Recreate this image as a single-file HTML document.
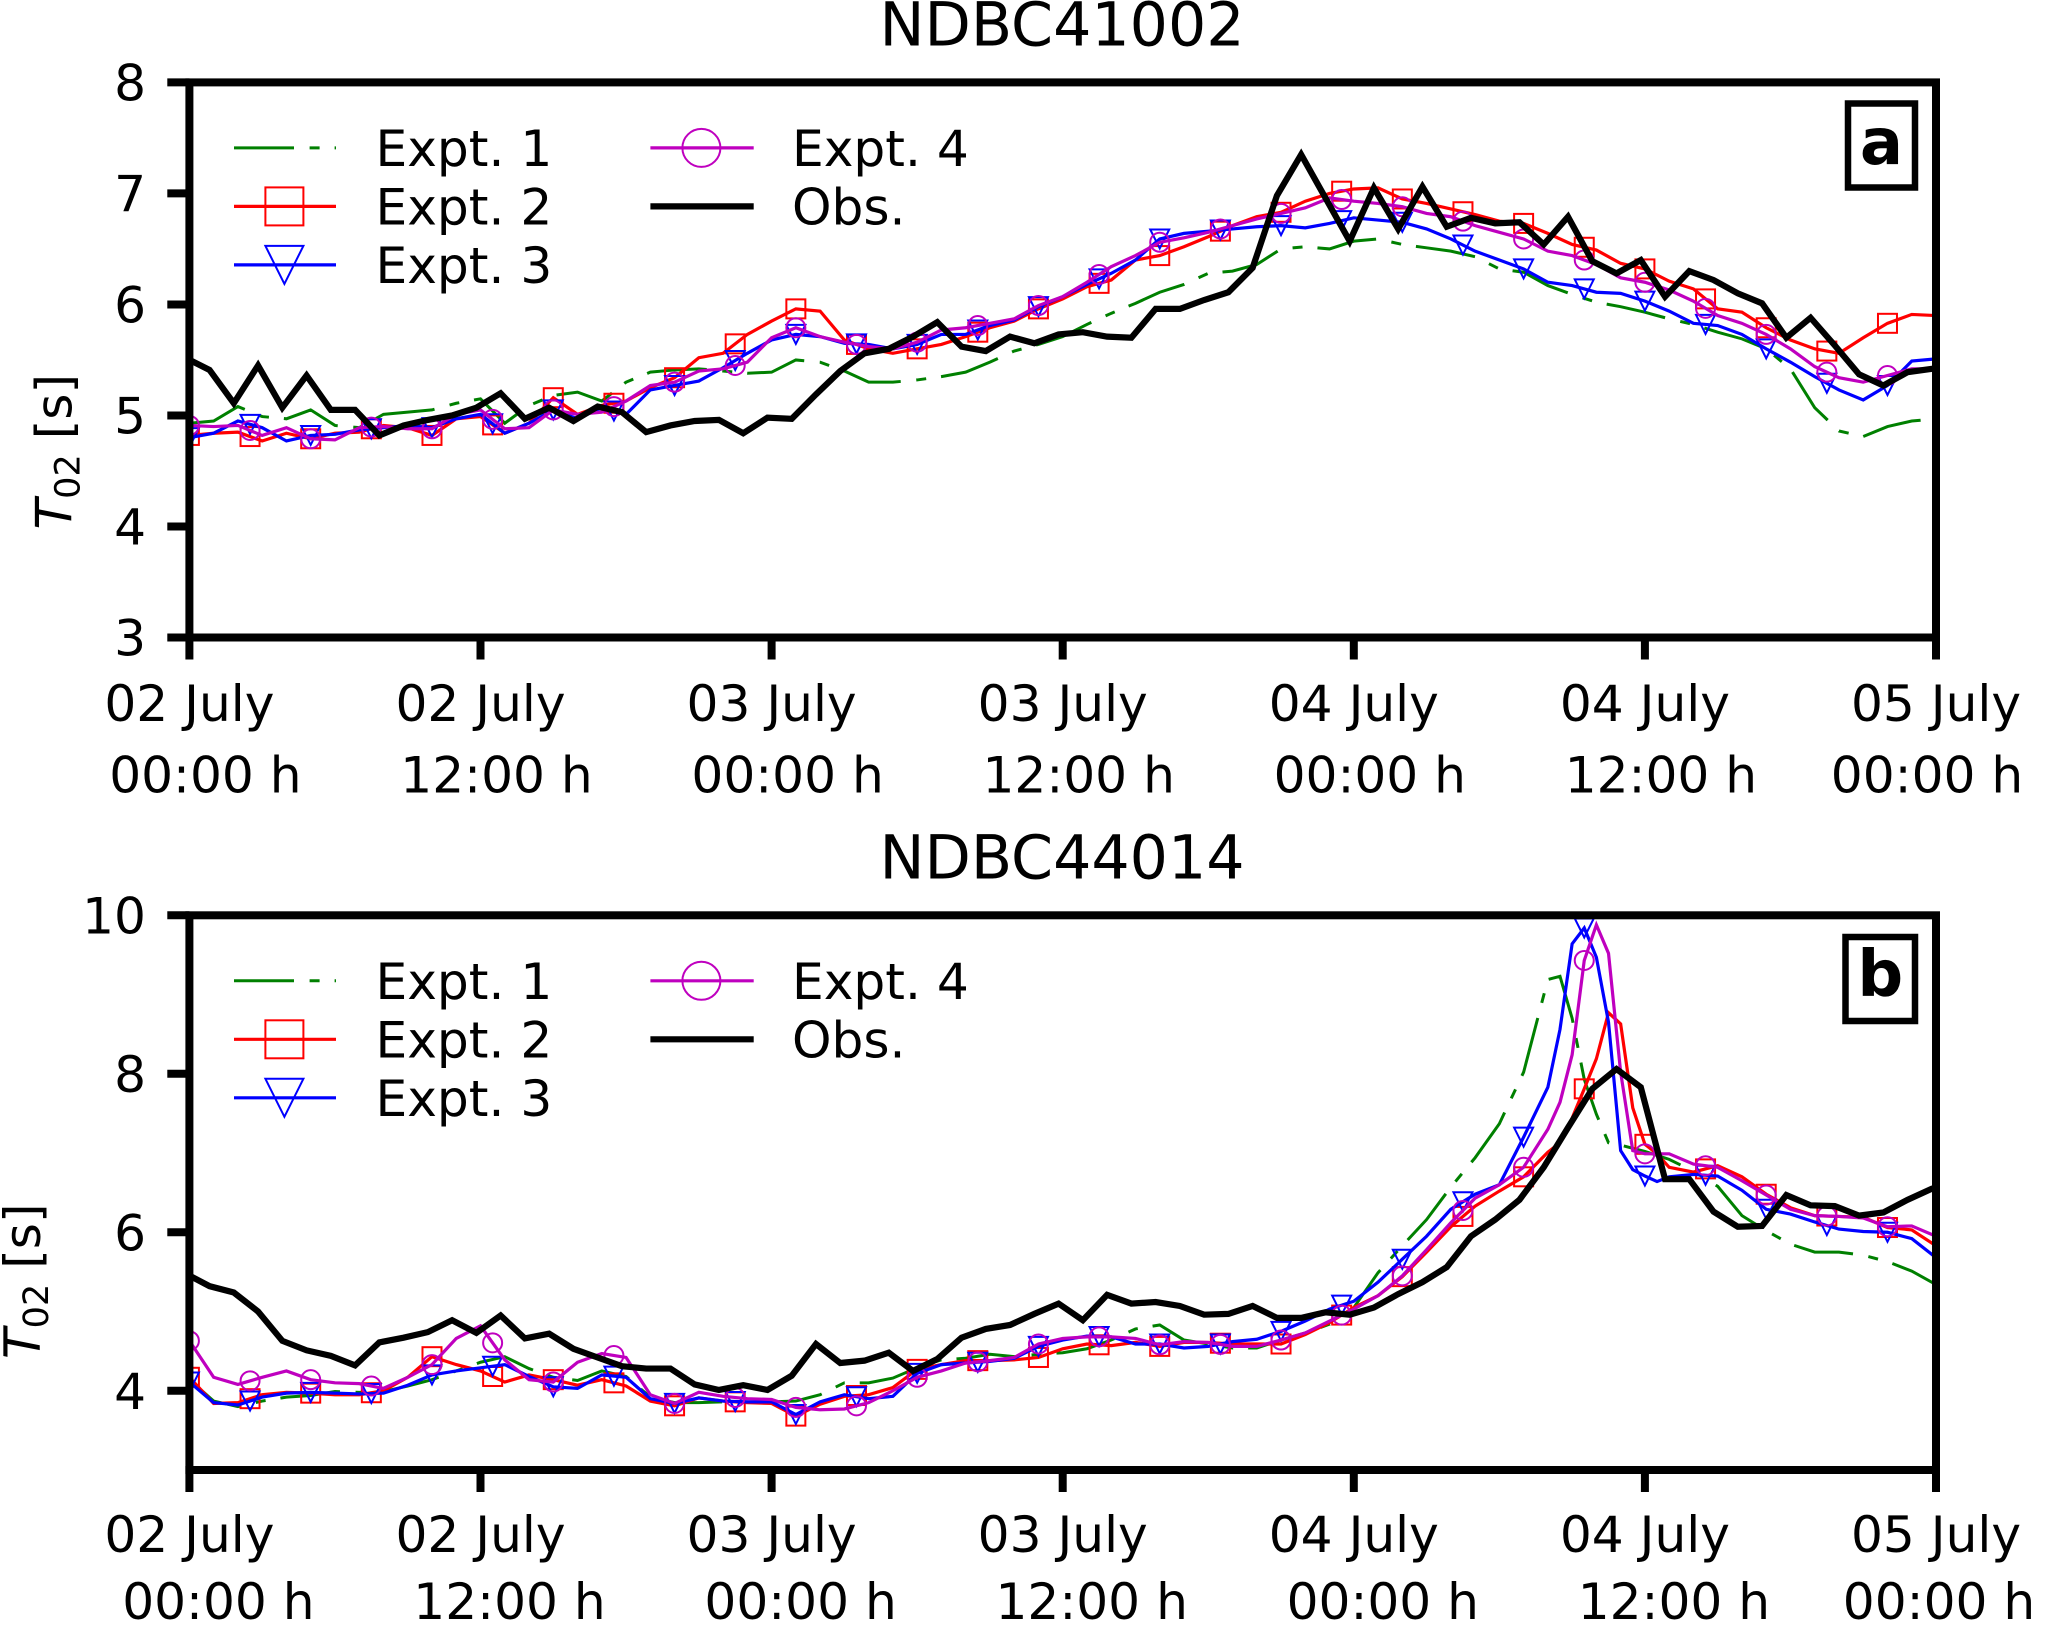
<!DOCTYPE html>
<html lang="en">
<head>
<meta charset="utf-8">
<title>NDBC T02 comparison</title>
<style>
html,body{margin:0;padding:0;background:#fff;}
svg{display:block;}
text{font-family:"DejaVu Sans","Liberation Sans",sans-serif;fill:#000;}
</style>
</head>
<body>
<svg id="chart" xmlns="http://www.w3.org/2000/svg" width="2066" height="1652" viewBox="0 0 2066 1652">
<rect x="0" y="0" width="2066" height="1652" fill="#fff"/>
<defs>
<clipPath id="clip-a"><rect x="189.4" y="82.4" width="1746.6" height="555.1"/></clipPath>
<clipPath id="clip-b"><rect x="189.4" y="915.3" width="1746.6" height="554.7"/></clipPath>
</defs>
</svg>
<script>
// Shared tick labels
const xTickHours = [0, 12, 24, 36, 48, 60, 72];
const xTickDates = ["02 July", "02 July", "03 July", "03 July", "04 July", "04 July", "05 July"];
const xTickTimes = ["00:00 h", "12:00 h", "00:00 h", "12:00 h", "00:00 h", "12:00 h", "00:00 h"];
const legendLabels = ["Expt. 1", "Expt. 2", "Expt. 3", "Expt. 4", "Obs."];

// Panel a (NDBC41002) — hourly
const aYTicks = [3, 4, 5, 6, 7, 8];
const aHours = [0,1,2,3,4,5,6,7,8,9,10,11,12,13,14,15,16,17,18,19,20,21,22,23,24,25,26,27,28,29,30,31,32,33,34,35,36,37,38,39,40,41,42,43,44,45,46,47,48,49,50,51,52,53,54,55,56,57,58,59,60,61,62,63,64,65,66,67,68,69,70,71,72];
const aExpt1 = [4.93,4.95,5.08,4.99,4.97,5.05,4.91,4.89,5.01,5.03,5.05,5.11,5.15,4.93,5.09,5.18,5.21,5.13,5.30,5.39,5.41,5.42,5.40,5.38,5.39,5.5,5.48,5.40,5.30,5.30,5.32,5.35,5.39,5.48,5.58,5.64,5.71,5.82,5.92,6.01,6.11,6.18,6.28,6.30,6.36,6.50,6.52,6.50,6.57,6.59,6.54,6.51,6.48,6.43,6.32,6.29,6.17,6.09,6.02,5.98,5.93,5.87,5.82,5.75,5.69,5.6,5.42,5.07,4.86,4.81,4.90,4.95,4.97];
const aExpt2 = [4.82,4.84,4.85,4.77,4.84,4.79,4.84,4.85,4.91,4.89,4.82,4.97,4.99,4.84,4.93,5.16,5.01,5.09,5.13,5.25,5.34,5.52,5.56,5.73,5.85,5.96,5.94,5.68,5.6,5.56,5.6,5.64,5.71,5.79,5.85,5.96,6.05,6.16,6.22,6.40,6.44,6.52,6.61,6.71,6.79,6.83,6.93,7.0,7.04,7.05,6.95,6.91,6.86,6.81,6.75,6.73,6.64,6.54,6.49,6.37,6.32,6.21,6.14,5.96,5.93,5.79,5.68,5.6,5.56,5.70,5.83,5.91,5.90];
const aExpt3 = [4.8,4.84,4.95,4.89,4.77,4.82,4.83,4.87,4.89,4.91,4.89,4.97,5.01,4.84,4.93,5.05,4.97,5.07,5.01,5.23,5.27,5.31,5.43,5.56,5.68,5.73,5.71,5.65,5.64,5.60,5.64,5.73,5.73,5.81,5.86,5.98,6.07,6.18,6.28,6.40,6.59,6.64,6.66,6.68,6.70,6.71,6.69,6.73,6.78,6.76,6.74,6.68,6.59,6.48,6.40,6.32,6.2,6.17,6.11,6.10,6.03,5.94,5.83,5.81,5.73,5.60,5.48,5.35,5.23,5.14,5.27,5.49,5.51];
const aExpt4 = [4.91,4.90,4.91,4.82,4.89,4.79,4.78,4.89,4.90,4.88,4.88,5.01,5.05,4.88,4.89,5.05,5.01,5.03,5.13,5.27,5.30,5.40,5.42,5.48,5.70,5.79,5.71,5.66,5.62,5.6,5.66,5.77,5.79,5.83,5.87,5.99,6.07,6.20,6.34,6.44,6.56,6.60,6.65,6.71,6.77,6.82,6.87,6.96,6.93,6.91,6.88,6.82,6.79,6.71,6.65,6.59,6.48,6.44,6.36,6.24,6.2,6.13,6.03,5.9,5.83,5.73,5.6,5.44,5.34,5.30,5.36,5.42,5.42];
const aObs = [5.52,5.41,5.11,5.45,5.07,5.36,5.05,5.05,4.82,4.91,4.96,5.0,5.07,5.2,4.97,5.07,4.95,5.08,5.03,4.85,4.91,4.95,4.96,4.84,4.98,4.97,5.19,5.40,5.56,5.6,5.71,5.84,5.62,5.58,5.71,5.65,5.73,5.75,5.71,5.70,5.96,5.96,6.04,6.11,6.33,6.98,7.35,6.96,6.57,7.05,6.68,7.06,6.70,6.78,6.73,6.74,6.54,6.79,6.39,6.28,6.40,6.07,6.30,6.22,6.10,6.01,5.70,5.88,5.63,5.37,5.27,5.39,5.42,5.43];

// Panel b (NDBC44014) — hourly, half-hourly around the peak
const bYTicks = [4, 6, 8, 10];
const bHours = [0,1,2,3,4,5,6,7,8,9,10,11,12,13,14,15,16,17,18,19,20,21,22,23,24,25,26,27,28,29,30,31,32,33,34,35,36,37,38,39,40,41,42,43,44,45,46,47,48,49,50,51,52,53,54,55,56,56.5,57,57.5,58,58.5,59,59.5,60,60.5,61,62,63,64,65,66,67,68,69,70,71,72];
const bExpt1 = [4.14,3.87,3.80,3.87,3.92,3.94,3.99,3.98,3.99,4.06,4.14,4.25,4.36,4.43,4.28,4.17,4.13,4.25,4.18,3.92,3.85,3.85,3.86,3.86,3.86,3.87,3.95,4.10,4.10,4.16,4.29,4.39,4.41,4.46,4.43,4.46,4.48,4.53,4.64,4.78,4.83,4.64,4.59,4.54,4.54,4.64,4.73,4.84,5.05,5.49,5.83,6.16,6.57,6.94,7.37,8.02,9.19,9.23,8.70,7.93,7.49,7.13,7.10,7.06,7.02,6.97,6.92,6.77,6.58,6.21,6.02,5.85,5.75,5.75,5.71,5.63,5.51,5.34];
const bExpt2 = [4.17,3.84,3.85,3.95,3.98,3.97,3.95,3.95,4.0,4.17,4.43,4.33,4.25,4.11,4.2,4.14,4.07,4.14,4.06,3.87,3.81,3.91,3.87,3.85,3.84,3.68,3.83,3.93,3.95,4.04,4.27,4.33,4.38,4.38,4.39,4.42,4.53,4.59,4.57,4.61,4.56,4.61,4.61,4.59,4.59,4.59,4.71,4.86,5.05,5.20,5.44,5.75,6.07,6.33,6.52,6.70,7.01,7.13,7.44,7.81,8.19,8.77,8.63,7.57,7.11,6.99,6.82,6.76,6.84,6.70,6.48,6.31,6.21,6.20,6.19,6.06,6.03,5.83];
const bExpt3 = [4.11,3.85,3.82,3.92,3.97,3.98,3.97,3.96,3.97,4.07,4.2,4.25,4.29,4.33,4.18,4.05,4.03,4.2,4.17,3.9,3.84,3.91,3.87,3.86,3.86,3.70,3.86,3.95,3.90,3.93,4.22,4.33,4.35,4.37,4.41,4.56,4.64,4.69,4.68,4.59,4.59,4.54,4.56,4.62,4.65,4.75,4.88,5.03,5.13,5.37,5.66,5.95,6.29,6.48,6.60,7.20,7.83,8.56,9.64,9.84,9.47,8.65,7.03,6.79,6.71,6.64,6.70,6.73,6.71,6.53,6.29,6.23,6.13,6.04,6.01,6.0,5.92,5.68];
const bExpt4 = [4.63,4.17,4.08,4.17,4.25,4.14,4.10,4.09,4.03,4.17,4.33,4.66,4.82,4.39,4.14,4.11,4.36,4.47,4.42,3.95,3.84,3.98,3.93,3.90,3.89,3.79,3.76,3.77,3.85,4.0,4.17,4.25,4.35,4.38,4.42,4.59,4.66,4.68,4.68,4.66,4.58,4.62,4.61,4.56,4.56,4.64,4.73,4.88,5.03,5.20,5.45,5.78,6.12,6.43,6.60,6.82,7.30,7.64,8.24,9.43,9.88,9.52,8.02,7.03,6.99,6.99,6.99,6.86,6.82,6.65,6.47,6.29,6.21,6.20,6.18,6.07,6.08,5.95];
const bObs = [5.48,5.32,5.24,5.0,4.63,4.51,4.44,4.32,4.61,4.67,4.74,4.89,4.73,4.95,4.66,4.72,4.53,4.42,4.31,4.28,4.28,4.08,4.01,4.07,4.01,4.19,4.59,4.35,4.38,4.48,4.25,4.40,4.67,4.78,4.83,4.97,5.10,4.89,5.21,5.10,5.12,5.07,4.96,4.97,5.07,4.92,4.92,4.99,4.96,5.05,5.22,5.37,5.56,5.95,6.16,6.41,6.82,7.32,7.81,8.06,7.83,6.67,6.67,6.26,6.07,6.08,6.47,6.34,6.33,6.21,6.25,6.41,6.55,6.62];

const NS = "http://www.w3.org/2000/svg";
const svg = document.getElementById("chart");
const X0 = 189.4, X1 = 1936, XMAX = 72, OBS_SHIFT = -0.17, MARK_STEP = 2.5;

function xScale(h) { return X0 + (X1 - X0) * h / XMAX; }

function node(tag, attrs, parent) {
  const el = document.createElementNS(NS, tag);
  for (const k in attrs) el.setAttribute(k, attrs[k]);
  (parent || svg).appendChild(el);
  return el;
}

function interp(hours, vals, t) {
  for (let i = 0; i < hours.length - 1; i++) {
    if (t >= hours[i] && t <= hours[i + 1]) {
      const f = (t - hours[i]) / (hours[i + 1] - hours[i]);
      return vals[i] + (vals[i + 1] - vals[i]) * f;
    }
  }
  return vals[vals.length - 1];
}

function drawMarker(kind, x, y, r, color, parent) {
  let el;
  if (kind === "square") {
    el = node("rect", {x: x - r, y: y - r, width: 2 * r, height: 2 * r}, parent);
  } else if (kind === "triangle") {
    el = node("polygon", {points: (x - r) + "," + (y - r) + " " + (x + r) + "," + (y - r) + " " + x + "," + (y + r)}, parent);
  } else {
    el = node("circle", {cx: x, cy: y, r: r}, parent);
  }
  el.setAttribute("fill", "none");
  el.setAttribute("stroke", color);
  el.setAttribute("stroke-width", "2");
  
  
  return el;
}

function drawPanel(p) {
  const yScale = v => p.yTop + (p.yMax - v) * (p.yBottom - p.yTop) / (p.yMax - p.yMin);
  const group = node("g", {});
  
  

  // series
  const plot = node("g", {"clip-path": "url(#clip-" + p.id + ")"}, group);
  
  

  p.series.forEach(function (s) {
    const pts = s.vals.map(function (v, i) {
      return xScale(s.hours[i] + (s.shift || 0)).toFixed(2) + "," + yScale(v).toFixed(2);
    }).join(" ");
    const line = node("polyline", {points: pts, fill: "none", stroke: s.color, "stroke-width": s.width, "stroke-linejoin": "miter", "stroke-miterlimit": "4"}, plot);
    if (s.dash) line.setAttribute("stroke-dasharray", s.dash);
    
    
    if (s.marker) {
      for (let t = 0; t <= XMAX; t += MARK_STEP) {
        drawMarker(s.marker, xScale(t), yScale(interp(s.hours, s.vals, t)), 9.5, s.color, plot);
      }
    }
  });

  // spines
  const spine = node("rect", {x: X0, y: p.yTop, width: X1 - X0, height: p.yBottom - p.yTop, fill: "none", stroke: "#000", "stroke-width": "8"}, group);
  
  

  // y ticks
  p.yTicks.forEach(function (v) {
    const y = yScale(v);
    const tick = node("line", {x1: 167.3, x2: X0, y1: y, y2: y, stroke: "#000", "stroke-width": "8"}, group);
    
    
    const label = node("text", {x: 146, y: y + 18, "text-anchor": "end", "font-size": "50.2"}, group);
    label.textContent = String(v);
    
    
  });

  // x ticks
  xTickHours.forEach(function (h, i) {
    const x = xScale(h);
    const tick = node("line", {x1: x, x2: x, y1: p.yBottom - 4, y2: p.yBottom + 22, stroke: "#000", "stroke-width": "8"}, group);
    
    
    const d = node("text", {x: x, y: p.yBottom + p.dateBase, "text-anchor": "middle", "font-size": "50.2"}, group);
    d.textContent = xTickDates[i];
    
    
    const off = i === xTickHours.length - 1 ? p.timeOffLast : p.timeOff;
    const t = node("text", {x: x + off, y: p.yBottom + p.timeBase, "text-anchor": "middle", "font-size": "50.2"}, group);
    t.textContent = xTickTimes[i];
    
    
  });

  // title
  const title = node("text", {x: 1062, y: p.yTop - 37, "text-anchor": "middle", "font-size": "60.2"}, group);
  title.textContent = p.title;
  
  

  // y-axis title
  const yl = node("text", {transform: "translate(" + p.ylabelX + "," + p.ylabelY + ") rotate(-90)", "font-size": "50.2"}, group);
  
  
  const t1 = node("tspan", {"font-style": "italic"}, yl);
  t1.textContent = "T";
  const t2 = node("tspan", {dy: "8", "font-size": "35"}, yl);
  t2.textContent = "02";
  const t3 = node("tspan", {dy: "-8", dx: "15"}, yl);
  t3.textContent = "[s]";

  // legend
  const rows = [65.5, 124, 182.5];
  const cols = [
    {x1: 234, x2: 336, mx: 284.4, tx: 379.5},
    {x1: 650.4, x2: 753.7, mx: 701.4, tx: 796}
  ];
  p.series.forEach(function (s, i) {
    const col = cols[i < 3 ? 0 : 1];
    const y = p.yTop + rows[i < 3 ? i : i - 3];
    const entry = node("g", {}, group);
    
    
    const l = node("line", {x1: col.x1, x2: col.x2, y1: y, y2: y, stroke: s.color, "stroke-width": s.width}, entry);
    if (s.dash) l.setAttribute("stroke-dasharray", s.dash);
    if (s.marker) drawMarker(s.marker, col.mx, y, 19, s.color, entry);
    const lab = node("text", {x: col.tx - 4, y: y + 18, "font-size": "50.2"}, entry);
    lab.textContent = legendLabels[i];
    
    
  });

  // panel letter
  const box = node("rect", {x: p.box[0], y: p.box[1], width: p.box[2], height: p.box[3], fill: "#fff", stroke: "#000", "stroke-width": "6.5"}, group);
  
  
  const let1 = node("text", {x: p.box[0] + p.box[2] / 2, y: p.letterY, "text-anchor": "middle", "font-size": "64", "font-weight": "bold"}, group);
  let1.textContent = p.id;
  
  
}

function seriesFor(hours, e1, e2, e3, e4, obs) {
  const obsHours = obs.map(function (_, i) { return i; });
  return [
    {key: "expt-1", hours: hours, vals: e1, color: "#008000", width: 3, dash: "60 15.6 10 15"},
    {key: "expt-2", hours: hours, vals: e2, color: "#ff0000", width: 3.2, marker: "square"},
    {key: "expt-3", hours: hours, vals: e3, color: "#0000ff", width: 3.2, marker: "triangle"},
    {key: "expt-4", hours: hours, vals: e4, color: "#bf00bf", width: 3.2, marker: "circle"},
    {key: "obs", hours: obsHours, vals: obs, color: "#000000", width: 6.2, shift: OBS_SHIFT}
  ];
}

drawPanel({
  id: "a", title: "NDBC41002", yTop: 82.4, yBottom: 637.5, yMin: 3, yMax: 8, yTicks: aYTicks,
  dateBase: 83.5, timeBase: 155, timeOff: 16, timeOffLast: -9,
  ylabelX: 71.5, ylabelY: 529.5, box: [1848, 103.5, 67, 84], letterY: 164,
  series: seriesFor(aHours, aExpt1, aExpt2, aExpt3, aExpt4, aObs)
});
drawPanel({
  id: "b", title: "NDBC44014", yTop: 915.3, yBottom: 1470, yMin: 3, yMax: 10, yTicks: bYTicks,
  dateBase: 82, timeBase: 149, timeOff: 29, timeOffLast: 3,
  ylabelX: 40, ylabelY: 1359, box: [1845.5, 937, 69.5, 84], letterY: 996,
  series: seriesFor(bHours, bExpt1, bExpt2, bExpt3, bExpt4, bObs)
});
</script>
</body>
</html>
